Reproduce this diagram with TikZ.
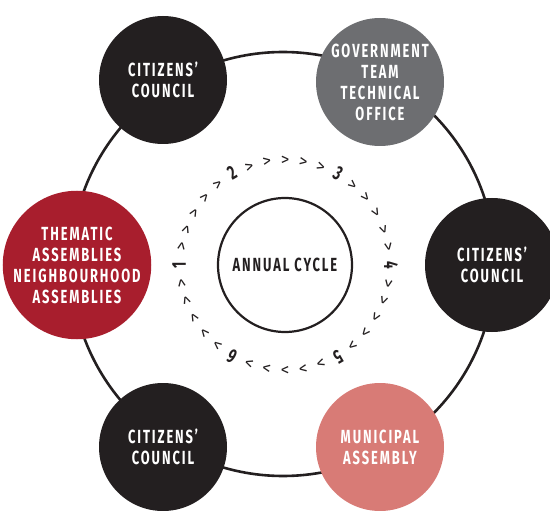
\documentclass[tikz,border=0pt]{standalone}
\usepackage{fontspec}
\usetikzlibrary{calc}
\setmainfont{Fira Sans}
\newfontfamily\condb[FakeStretch=0.68,LetterSpace=10]{Fira Sans}
\newfontfamily\ringfont{Fira Sans}
\definecolor{ink}{HTML}{231F20}
\definecolor{slate}{HTML}{6D6E71}
\definecolor{crimson}{HTML}{A81E2D}
\definecolor{salmon}{HTML}{D87B76}
\tikzset{
  stage/.style={circle, minimum size=#1, inner sep=0pt, text=white, align=center,
    font={\condb\bfseries\fontsize{19}{21}\selectfont}},
  ring/.style={draw=ink, line width=2.6pt},
  chev/.style={text=ink, inner sep=0pt, font={\ringfont\fontsize{17}{17}\selectfont}},
  num/.style={text=ink, inner sep=0pt, font={\condb\bfseries\fontsize{20}{20}\selectfont}},
}
\begin{document}
\begin{tikzpicture}[x=1pt,y=-1pt]
\useasboundingbox (0,0) rectangle (550,511);
\clip (0,0) rectangle (550,511);
\coordinate (c) at (283,264);
\draw[ring] (c) circle[radius=212];
\node[stage=128pt, fill=ink] (cc1) at (163,80) {CITIZENS’\\COUNCIL};
\node[stage=128pt, fill=slate] (gov) at (380,82) {GOVERNMENT\\TEAM\\TECHNICAL\\OFFICE};
\node[stage=134pt, fill=ink] (cc2) at (492,265) {CITIZENS’\\COUNCIL};
\node[stage=136pt, fill=crimson] (tha) at (77,265) {THEMATIC\\ASSEMBLIES\\NEIGHBOURHOOD\\ASSEMBLIES};
\node[stage=128pt, fill=ink] (cc3) at (163,447) {CITIZENS’\\COUNCIL};
\node[stage=128pt, fill=salmon] (mun) at (380,447) {MUNICIPAL\\ASSEMBLY};
\node[circle, draw=ink, line width=2.2pt, minimum size=134pt, inner sep=0pt, text=ink,
  font={\condb\bfseries\fontsize{19}{19}\selectfont}] (annual) at (285,265) {ANNUAL CYCLE};
\foreach \i in {0,...,35}{
  \pgfmathtruncatemacro{\a}{180-10*\i}
  \pgfmathtruncatemacro{\m}{mod(\i,6)}
  \pgfmathtruncatemacro{\k}{\i/6+1}
  \ifnum\m=0
    \node[num, rotate=\a-90] (r\i) at ($(annual.center)+({106*cos(\a)},{-106*sin(\a)})$) {\k};
  \else
    \node[chev, rotate=\a-90] (r\i) at ($(annual.center)+({104*cos(\a)},{-104*sin(\a)})$) {>};
  \fi
}
\end{tikzpicture}
\end{document}
